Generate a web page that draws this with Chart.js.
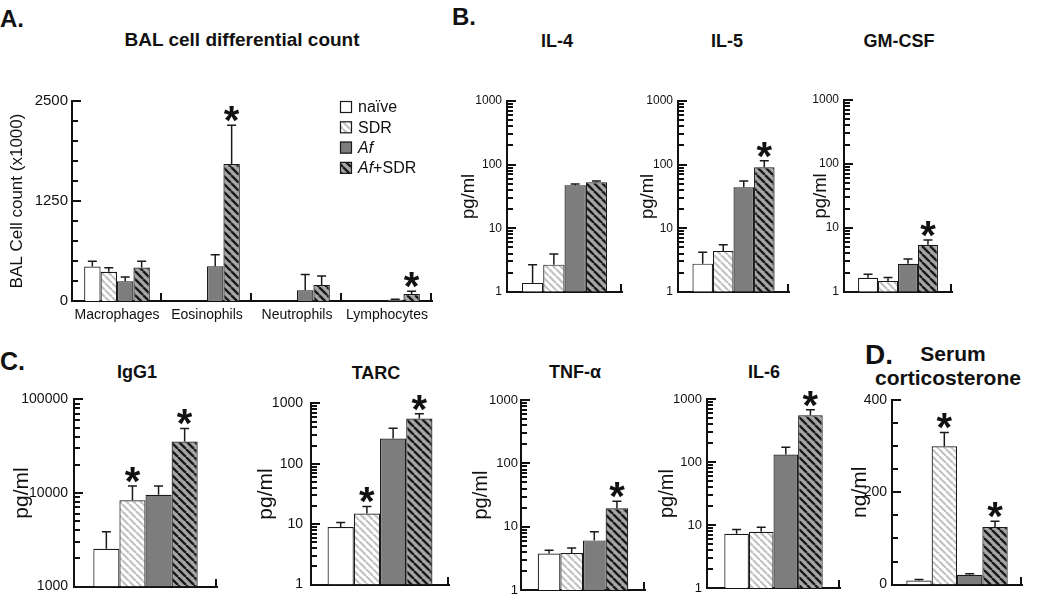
<!DOCTYPE html>
<html>
<head>
<meta charset="utf-8">
<script src="https://cdn.jsdelivr.net/npm/chart.js@4"></script>
<style>
body { margin: 0; background: #fff; }
#fig { position: relative; width: 1050px; height: 607px; overflow: hidden; font-family: "Liberation Sans", Arial, sans-serif; color: #111; }
#fig canvas { position: absolute; }
.lbl { position: absolute; line-height: 1; white-space: nowrap; font-weight: bold; }
.ttl { transform: translate(-50%, -50%); }
</style>
</head>
<body>
<div id="fig">
  <div class="lbl" style="left:0;top:7px;font-size:24px">A.</div>
  <div class="lbl ttl" style="left:242px;top:39px;font-size:19px">BAL cell differential count</div>
  <div class="lbl" style="left:452px;top:5px;font-size:24px">B.</div>
  <div class="lbl ttl" style="left:557px;top:41px;font-size:18px">IL-4</div>
  <div class="lbl ttl" style="left:727px;top:41px;font-size:18px">IL-5</div>
  <div class="lbl ttl" style="left:899px;top:41px;font-size:18px">GM-CSF</div>
  <div class="lbl" style="left:0;top:349px;font-size:25px">C.</div>
  <div class="lbl ttl" style="left:137px;top:372px;font-size:18px">IgG1</div>
  <div class="lbl ttl" style="left:376px;top:373px;font-size:18px">TARC</div>
  <div class="lbl ttl" style="left:575px;top:372px;font-size:18px">TNF-α</div>
  <div class="lbl ttl" style="left:764px;top:372px;font-size:18px">IL-6</div>
  <div class="lbl" style="left:865px;top:341px;font-size:28px">D.</div>
  <div class="lbl ttl" style="left:953px;top:353px;font-size:21px">Serum</div>
  <div class="lbl ttl" style="left:948px;top:377px;font-size:21px">corticosterone</div>
</div>
<script>
// groups, same order everywhere
const groups = ['naïve', 'SDR', 'Af', 'Af+SDR'];
const cellTypes = ['Macrophages', 'Eosinophils', 'Neutrophils', 'Lymphocytes'];

// A. BAL cells (x1000), one array per group over cellTypes
const balNaive = [430, 0, 0, 0];
const balSdr = [365, 0, 0, 0];
const balAf = [247, 435, 134, 17];
const balAfSdr = [419, 1713, 201, 88];
const balNaiveSem = [68, null, null, null];
const balSdrSem = [50, null, null, null];
const balAfSem = [54, 143, 197, 5];
const balAfSdrSem = [79, 485, 113, 33];
const balSig = [false, true, false, true]; // Af+SDR only

// B. / C. / D. one value per group: naive, SDR, Af, Af+SDR
const il4 = [1.38, 2.67, 47.2, 52.8];
const il4Sem = [1.29, 1.25, 2.5, 2.2];
const il4Sig = [false, false, false, false];
const il5 = [2.77, 4.4, 44, 91];
const il5Sem = [1.43, 1.08, 11.4, 24];
const il5Sig = [false, false, false, true];
const gmcsf = [1.66, 1.48, 2.75, 5.43];
const gmcsfSem = [0.22, 0.2, 0.52, 1.03];
const gmcsfSig = [false, false, false, true];
const igg1 = [2535, 8370, 9550, 35400];
const igg1Sem = [1318, 3490, 2310, 13600];
const igg1Sig = [false, true, false, true];
const tarc = [8.97, 15.0, 263, 563];
const tarcSem = [1.73, 4.7, 124, 109];
const tarcSig = [false, true, false, true];
const tnf = [3.78, 3.87, 6.1, 19.6];
const tnfSem = [0.47, 0.74, 2.26, 5.7];
const tnfSig = [false, false, false, true];
const il6 = [7.3, 7.83, 132, 552];
const il6Sem = [1.2, 1.39, 39, 121];
const il6Sig = [false, false, false, true];
const cort = [8.9, 299.7, 21.3, 125];
const cortSem = [2.1, 30, 2.1, 12];
const cortSig = [false, true, false, true];

// labelled ticks
const balTicks = [0, 1250, 2500];
const cytoTicks = [1, 10, 100, 1000];
const igg1Ticks = [1000, 10000, 100000];
const cortTicks = [0, 200, 400];

const FONT = '"Liberation Sans", Arial, sans-serif';
Chart.defaults.font.family = FONT;
Chart.defaults.color = '#111';
const fig = document.getElementById('fig');

function stripes(bg, fg, size, width) {
    const c = document.createElement('canvas');
    c.width = size; c.height = size;
    const g = c.getContext('2d');
    g.fillStyle = bg;
    g.fillRect(0, 0, size, size);
    g.strokeStyle = fg;
    g.lineWidth = width;
    g.beginPath();
    for (let k = -1; k <= 1; k++) {
        g.moveTo(k * size, 0);
        g.lineTo(k * size + size, size);
    }
    g.stroke();
    return g.createPattern(c, 'repeat');
}

const fills = ['#ffffff', stripes('#ffffff', '#c2c2c2', 7, 2.2), '#7d7d7d', stripes('#a6a6a6', '#1a1a1a', 8, 2.4)];

function isLabelled(list, v) {
    return list.some(t => Math.abs(t - v) < 1e-6 * Math.max(1, t));
}

// inward y ticks and small upward x ticks, placed from the chart's scales
function drawTicks(chart, labelled) {
    const ctx = chart.ctx;
    const a = chart.chartArea;
    const y = chart.scales.y;
    const x0 = Math.round(a.left);
    const yb = Math.round(a.bottom);
    ctx.save();
    ctx.fillStyle = '#111111';
    y.getTicks().forEach(t => {
        const py = Math.round(y.getPixelForValue(t.value));
        const len = isLabelled(labelled, t.value) ? 9 : 6;
        ctx.fillRect(x0, py - 1, len, 2);
    });
    const n = chart.data.labels.length;
    for (let i = 1; i <= n; i++) {
        const px = Math.round(a.left + (a.right - a.left) * i / n);
        ctx.fillRect(px - 2, yb - 8, 2, 8);
    }
    ctx.restore();
}

// error bars, asterisks, axis ticks, legend
function decor(labelled, showLegend) {
    return {
        id: 'decor',
        afterDatasetsDraw(chart) {
            const ctx = chart.ctx;
            const a = chart.chartArea;
            const y = chart.scales.y;
            ctx.save();
            ctx.strokeStyle = '#1a1a1a';
            ctx.lineWidth = 1.5;
            chart.data.datasets.forEach((ds, i) => {
                chart.getDatasetMeta(i).data.forEach((bar, j) => {
                    const sem = ds.sem[j];
                    if (sem == null) return;
                    const top = y.getPixelForValue(ds.data[j] + sem);
                    ctx.beginPath();
                    ctx.moveTo(bar.x, bar.y);
                    ctx.lineTo(bar.x, top);
                    ctx.moveTo(bar.x - 4.5, top);
                    ctx.lineTo(bar.x + 4.5, top);
                    ctx.stroke();
                    if (ds.sig[j]) {
                        ctx.font = 'bold 40px ' + FONT;
                        ctx.fillStyle = '#111';
                        ctx.textAlign = 'center';
                        ctx.textBaseline = 'alphabetic';
                        const m = ctx.measureText('*');
                        const cy = top - 11;
                        ctx.fillText('*', bar.x, cy - (m.actualBoundingBoxDescent - m.actualBoundingBoxAscent) / 2);
                    }
                });
            });

            if (showLegend) {
                chart.data.datasets.forEach((ds, i) => {
                    const cy = a.top + 6 + i * 20.3;
                    const bx = a.right - 92;
                    ctx.fillStyle = ds.backgroundColor;
                    ctx.fillRect(bx, cy - 6, 12, 12);
                    ctx.lineWidth = 1.2;
                    ctx.strokeRect(bx + 0.5, cy - 5.5, 11, 11);
                    ctx.fillStyle = '#111';
                    ctx.textBaseline = 'middle';
                    ctx.textAlign = 'left';
                    let tx = bx + 18;
                    let rest = ds.label;
                    if (rest.startsWith('Af')) {
                        ctx.font = 'italic 16px ' + FONT;
                        ctx.fillText('Af', tx, cy + 1);
                        tx += ctx.measureText('Af').width;
                        rest = rest.slice(2);
                    }
                    ctx.font = '16px ' + FONT;
                    ctx.fillText(rest, tx, cy + 1);
                });
            }
            ctx.restore();
        },
        afterDraw(chart) {
            drawTicks(chart, labelled);
        }
    };
}

function makePanel(p) {
    const padTop = 14, padRight = 10;
    const left = Math.round(p.yTitleX - p.yTitleSize * 0.6);
    const canvas = document.createElement('canvas');
    canvas.width = p.area[2] - left + padRight;
    canvas.height = p.area[3] - p.area[1] + padTop + p.xHeight;
    canvas.style.left = left + 'px';
    canvas.style.top = (p.area[1] - padTop) + 'px';
    fig.appendChild(canvas);
    const isLog = p.yType === 'logarithmic';

    new Chart(canvas, {
        type: 'bar',
        data: {
            labels: p.labels,
            datasets: groups.map((g, i) => ({
                label: g,
                data: p.values[i],
                sem: p.sems[i],
                sig: p.sigs[i],
                backgroundColor: fills[i],
                borderColor: '#1a1a1a',
                borderWidth: 1.2,
                categoryPercentage: p.catPct,
                barPercentage: 1
            }))
        },
        options: {
            responsive: false,
            animation: false,
            layout: { autoPadding: false, padding: { top: padTop, right: padRight, left: 0, bottom: 0 } },
            plugins: {
                legend: { display: false },
                tooltip: { enabled: false }
            },
            scales: {
                x: {
                    afterFit: s => { s.height = p.xHeight; },
                    grid: { display: false, drawTicks: false },
                    border: { display: true, color: '#111', width: 2 },
                    ticks: { display: p.labels.length > 1, padding: 6, font: { size: 14 }, color: '#111', autoSkip: false, maxRotation: 0 }
                },
                y: {
                    type: p.yType,
                    min: p.ticks[0],
                    max: p.ticks[p.ticks.length - 1],
                    afterFit: s => { s.width = p.area[0] - left; },
                    afterBuildTicks: s => {
                        if (isLog) {
                            s.ticks = s.ticks.filter(t => {
                                const d = Math.pow(10, Math.floor(Math.log10(t.value) + 1e-9));
                                return Math.abs(t.value / d - Math.round(t.value / d)) < 1e-6;
                            });
                        }
                    },
                    grid: { display: false, drawTicks: false },
                    border: { display: true, color: '#111', width: 2 },
                    title: { display: true, text: p.yTitle, font: { size: p.yTitleSize }, padding: 0, color: '#111' },
                    ticks: {
                        autoSkip: false,
                        stepSize: p.step,
                        padding: p.tickPad,
                        font: { size: p.tickSize },
                        color: '#111',
                        callback: v => isLabelled(p.ticks, v) ? String(v) : ''
                    }
                }
            }
        },
        plugins: [decor(p.ticks, !!p.legend)]
    });
}

const one = arr => arr.map(v => [v]);

makePanel({
    area: [72, 101, 432, 301], yType: 'linear', ticks: balTicks, step: 250,
    yTitle: 'BAL Cell count (x1000)', yTitleX: 16.7, yTitleSize: 17, tickSize: 15, tickPad: 4,
    xHeight: 30, labels: cellTypes, catPct: 0.73, legend: true,
    values: [balNaive, balSdr, balAf, balAfSdr],
    sems: [balNaiveSem, balSdrSem, balAfSem, balAfSdrSem],
    sigs: [[false, false, false, false], [false, false, false, false], [false, false, false, false], balSig]
});

const single = [
    { area: [507, 101, 622, 300], ticks: cytoTicks, yTitleX: 469, yTitleSize: 18.5, tickSize: 12, tickPad: 5, catPct: 0.74, v: il4, s: il4Sem, g: il4Sig },
    { area: [678, 101, 789, 300], ticks: cytoTicks, yTitleX: 648, yTitleSize: 18.5, tickSize: 12, tickPad: 5, catPct: 0.74, v: il5, s: il5Sem, g: il5Sig },
    { area: [844, 100, 952, 300], ticks: cytoTicks, yTitleX: 821, yTitleSize: 18.5, tickSize: 12, tickPad: 5, catPct: 0.74, v: gmcsf, s: gmcsfSem, g: gmcsfSig },
    { area: [74, 399, 217, 597], ticks: igg1Ticks, yTitleX: 22.5, yTitleSize: 21, tickSize: 14, tickPad: 6, catPct: 0.73, v: igg1, s: igg1Sem, g: igg1Sig },
    { area: [311, 401, 449, 597], ticks: cytoTicks, yTitleX: 267, yTitleSize: 21, tickSize: 14, tickPad: 8, catPct: 0.76, v: tarc, s: tarcSem, g: tarcSig },
    { area: [521, 400, 645, 597], ticks: cytoTicks, yTitleX: 481, yTitleSize: 20, tickSize: 13, tickPad: 3, catPct: 0.73, v: tnf, s: tnfSem, g: tnfSig },
    { area: [707, 399, 840, 597], ticks: cytoTicks, yTitleX: 667, yTitleSize: 20, tickSize: 13, tickPad: 5, catPct: 0.74, v: il6, s: il6Sem, g: il6Sig },
    { area: [892, 400, 1022, 594], ticks: cortTicks, step: 50, linear: true, yTitle: 'ng/ml', yTitleX: 861, yTitleSize: 21, tickSize: 14, tickPad: 5, catPct: 0.78, v: cort, s: cortSem, g: cortSig }
];

single.forEach(p => {
    makePanel({
        area: p.area, yType: p.linear ? 'linear' : 'logarithmic', ticks: p.ticks, step: p.step,
        yTitle: p.yTitle || 'pg/ml', yTitleX: p.yTitleX, yTitleSize: p.yTitleSize,
        tickSize: p.tickSize, tickPad: p.tickPad, xHeight: 4, labels: [''], catPct: p.catPct,
        values: one(p.v), sems: one(p.s), sigs: one(p.g)
    });
});
</script>
</body>
</html>
